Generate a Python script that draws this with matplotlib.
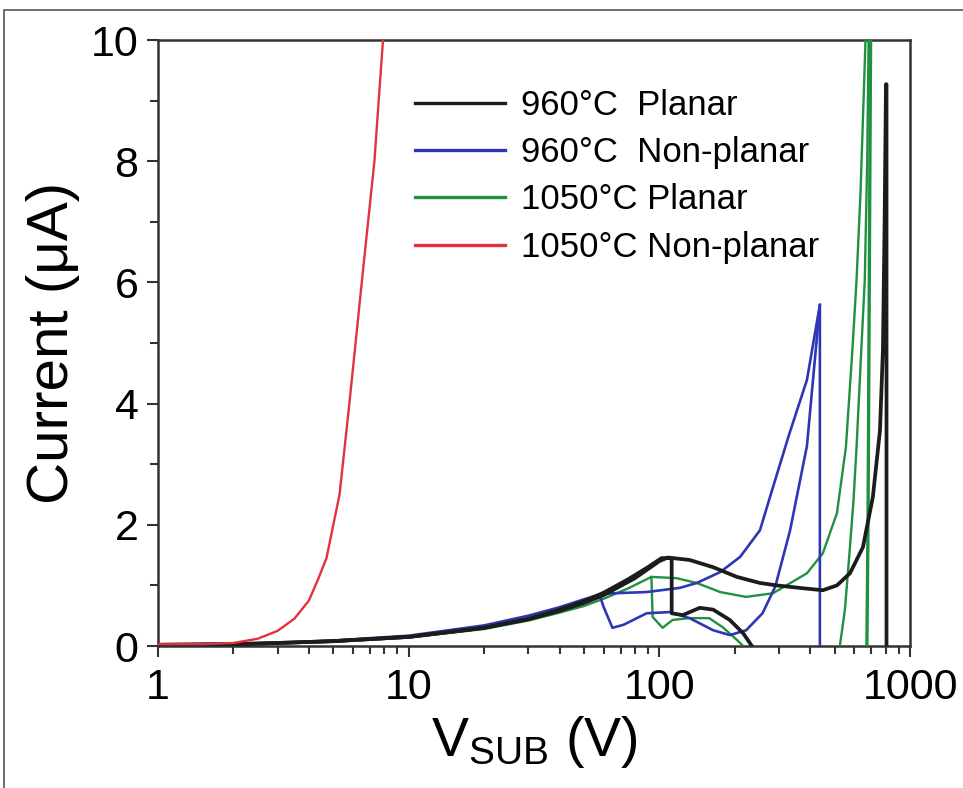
import matplotlib
matplotlib.use("Agg")
import matplotlib.pyplot as plt
from matplotlib.patches import Rectangle

plt.rcParams['font.family'] = ['Liberation Sans', 'DejaVu Sans']
plt.rcParams['mathtext.fontset'] = 'custom'
plt.rcParams['mathtext.rm'] = 'Liberation Sans'
plt.rcParams['mathtext.it'] = 'Liberation Sans'

# ---------------- data ----------------
labels = ["960\u00b0C  Planar", "960\u00b0C  Non-planar", "1050\u00b0C Planar", "1050\u00b0C Non-planar"]
colors = ["#1c1c1c", "#2f36b3", "#1f9140", "#e2323e"]

# 960C Planar (black)
black_a_v = [1, 2, 3, 5, 10, 20, 30, 40, 50, 60, 75, 90, 102, 110, 112, 112, 124, 145, 164, 191, 216, 234]
black_a_i = [0.02, 0.03, 0.05, 0.08, 0.15, 0.30, 0.45, 0.60, 0.74, 0.88, 1.10, 1.30, 1.45, 1.45, 1.45, 0.54, 0.51, 0.63, 0.60, 0.43, 0.21, 0.0]
black_b_v = [1, 2, 3, 5, 10, 20, 30, 40, 50, 60, 80, 100, 108, 132, 164, 204, 252, 294, 380, 449, 511, 576, 649, 711, 759, 780, 792, 802, 806, 806]
black_b_i = [0.02, 0.03, 0.05, 0.08, 0.15, 0.30, 0.44, 0.58, 0.71, 0.84, 1.12, 1.40, 1.46, 1.42, 1.30, 1.14, 1.04, 1.00, 0.95, 0.92, 1.00, 1.20, 1.63, 2.46, 3.56, 4.90, 7.00, 9.27, 9.27, 0.0]

# 960C Non-planar (blue)
blue_up_v = [1, 2, 3, 5, 10, 20, 30, 40, 50, 58, 65, 89, 121, 141, 175, 210, 252, 284, 330, 388, 437, 437]
blue_up_i = [0.02, 0.03, 0.05, 0.09, 0.17, 0.34, 0.50, 0.64, 0.77, 0.85, 0.87, 0.89, 0.96, 1.04, 1.22, 1.47, 1.91, 2.62, 3.50, 4.39, 5.63, 0.0]
blue_lo_v = [58, 60, 65, 72, 89, 110, 132, 164, 191, 222, 258, 290, 332, 388, 437]
blue_lo_i = [0.82, 0.64, 0.30, 0.35, 0.54, 0.56, 0.46, 0.26, 0.18, 0.26, 0.54, 0.98, 1.90, 3.30, 5.63]

# 1050C Planar (green)
green_a_v = [1, 2, 3, 5, 10, 20, 30, 40, 50, 60, 75, 93, 94, 103, 113, 132, 158, 179, 204, 216]
green_a_i = [0.02, 0.03, 0.04, 0.07, 0.14, 0.28, 0.42, 0.55, 0.66, 0.78, 0.95, 1.14, 0.48, 0.30, 0.43, 0.46, 0.46, 0.31, 0.10, 0.0]
green_b_v = [93, 117, 141, 175, 222, 284, 388, 449, 511, 555, 590, 612, 635, 655, 668]
green_b_i = [1.14, 1.12, 1.04, 0.89, 0.81, 0.87, 1.20, 1.53, 2.19, 3.28, 4.93, 6.04, 7.50, 9.20, 10.30]
green_c_v = [525, 550, 576, 595, 612, 640, 660, 675, 685]
green_c_i = [0.0, 0.60, 1.63, 2.40, 3.28, 4.93, 6.04, 8.00, 10.30]
green_d_v = [673, 680, 686, 692, 697]
green_d_i = [0.0, 2.0, 5.0, 8.0, 10.3]

# 1050C Non-planar (red)
red_v = [1, 1.5, 2, 2.5, 3, 3.5, 4.0, 4.35, 4.7, 5.3, 5.8, 6.5, 7.3, 7.9, 8.1]
red_i = [0.03, 0.03, 0.05, 0.12, 0.25, 0.45, 0.75, 1.10, 1.45, 2.50, 4.00, 6.00, 8.00, 10.0, 10.5]

x_ticks = [1, 10, 100, 1000]
x_tick_labels = ["1", "10", "100", "1000"]
y_ticks = [0, 2, 4, 6, 8, 10]
y_tick_labels = ["0", "2", "4", "6", "8", "10"]

# ---------------- figure ----------------
fig = plt.figure(figsize=(9.63, 7.88), dpi=100)
ax = fig.add_axes([158/963, 1 - 646/788, (910 - 158)/963, (646 - 40)/788])

lw_black, lw_blue, lw_green, lw_red = 2.7, 1.9, 1.7, 1.7
ax.plot(black_a_v, black_a_i, color=colors[0], lw=lw_black, label=labels[0], zorder=5)
ax.plot(black_b_v, black_b_i, color=colors[0], lw=lw_black, zorder=5)
ax.plot(blue_up_v, blue_up_i, color=colors[1], lw=lw_blue, label=labels[1], zorder=4)
ax.plot(blue_lo_v, blue_lo_i, color=colors[1], lw=lw_blue, zorder=4)
ax.plot(green_a_v, green_a_i, color=colors[2], lw=lw_green, label=labels[2], zorder=3)
ax.plot(green_b_v, green_b_i, color=colors[2], lw=lw_green, zorder=3)
ax.plot(green_c_v, green_c_i, color=colors[2], lw=lw_green, zorder=3)
ax.plot(green_d_v, green_d_i, color=colors[2], lw=2.4, zorder=3)
ax.plot(red_v, red_i, color=colors[3], lw=lw_red, label=labels[3], zorder=6)

ax.set_xscale('log')
ax.set_xlim(1, 1000)
ax.set_ylim(0, 10)
ax.set_xticks(x_ticks, labels=x_tick_labels)
ax.set_yticks(y_ticks, labels=y_tick_labels)
ax.set_yticks([1, 3, 5, 7, 9], minor=True)

for s in ax.spines.values():
    s.set_linewidth(1.8)
    s.set_color('#333333')
ax.tick_params(which='both', direction='out', color='#333333', width=1.5,
               top=False, right=False, labelsize=31, pad=6)
ax.tick_params(which='major', length=8)
ax.tick_params(which='minor', length=6)
ax.tick_params(axis='x', pad=8)

ax.set_ylabel("Current (\u03bcA)", fontsize=42, labelpad=8)
ax.set_xlabel(r"V$_{\mathrm{SUB}}$ (V)", fontsize=40, labelpad=4)

leg = ax.legend(loc='upper left', bbox_to_anchor=((415 - 158)/752, (646 - 89)/606),
                frameon=False, fontsize=25, handlelength=2.6, handletextpad=0.45,
                labelspacing=0.41, borderpad=0, borderaxespad=0)
for line in leg.get_lines():
    line.set_linewidth(2.4)

# figure border (partially cut off at right/bottom as in reference)
fig.patches.append(Rectangle((4/963, -0.1), 1.2, 1 - 10/788 + 0.1, transform=fig.transFigure,
                             fill=False, edgecolor='#555555', lw=1.2))

fig.savefig("out.png", dpi=100)
